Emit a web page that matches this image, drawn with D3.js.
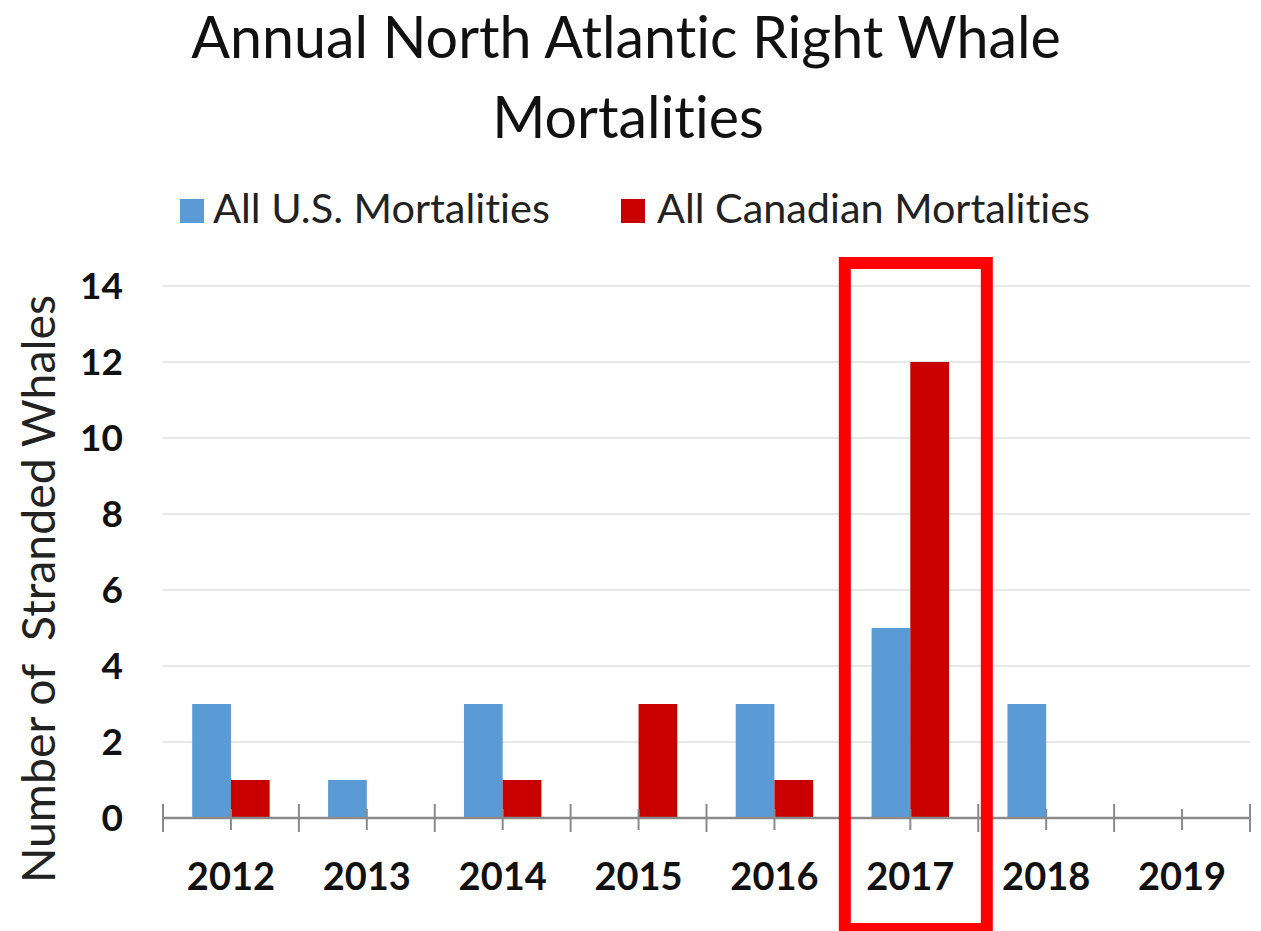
<!DOCTYPE html>
<html>
<head>
<meta charset="utf-8">
<script src="https://cdn.jsdelivr.net/npm/d3@7"></script>
<style>
  html, body { margin: 0; padding: 0; background: #fff; }
  svg { display: block; }
  text { font-family: Lato, "Open Sans", sans-serif; font-variant-ligatures: none; font-feature-settings: "liga" 0, "clig" 0; }
</style>
</head>
<body>
<svg id="chart" width="1261" height="931"></svg>
<script>
const years = ["2012", "2013", "2014", "2015", "2016", "2017", "2018", "2019"];
const usMortalities = [3, 1, 3, 0, 3, 5, 3, 0];
const canadianMortalities = [1, 0, 1, 3, 1, 12, 0, 0];
const seriesNames = ["All U.S. Mortalities", "All Canadian Mortalities"];
const seriesColors = ["#5b9bd5", "#c80000"];
const yTicks = [0, 2, 4, 6, 8, 10, 12, 14];
const titleLines = ["Annual North Atlantic Right Whale", "Mortalities"];
const yAxisTitle = "Number of  Stranded Whales";
const highlightYear = "2017";

const svg = d3.select("#chart");
const plot = { left: 163, right: 1250, top: 286, bottom: 818 };

const x0 = d3.scaleBand().domain(years).range([plot.left, plot.right]).padding(0);
const bw = x0.bandwidth();
const x1 = d3.scaleBand().domain([0, 1]).range([bw * 0.215, bw * 0.785]).padding(0);
const y = d3.scaleLinear().domain([0, 14]).range([plot.bottom, plot.top]);

function fitWidth(sel, target) {
  const node = sel.node();
  const fs = parseFloat(sel.attr("font-size"));
  const w = node.getComputedTextLength();
  sel.attr("font-size", (fs * target / w).toFixed(2));
}

// Title
const t1 = svg.append("text").attr("x", 626).attr("y", 53).attr("text-anchor", "middle")
  .attr("font-size", 60).attr("fill", "#111").text(titleLines[0]);
fitWidth(t1, 925);
let b = t1.node().getBBox();
let fs = parseFloat(t1.attr("font-size"));
let asc = (53 - b.y) / fs;
let t1y = 53;
if (b.y < 1) {
  fs = fs * 0.94;
  t1y = Math.ceil(asc * fs) + 1;
  t1.attr("font-size", fs.toFixed(2)).attr("y", t1y);
}
const t2 = svg.append("text").attr("x", 628).attr("y", t1y + 80).attr("text-anchor", "middle")
  .attr("font-size", t1.attr("font-size")).attr("fill", "#111").text(titleLines[1]);

// Legend
const legendItems = [
  { sq: 180, tx: 213, end: 550 },
  { sq: 621, tx: 657, end: 1090 }
];
legendItems.forEach((li, i) => {
  svg.append("rect").attr("x", li.sq).attr("y", 199).attr("width", 24).attr("height", 24)
    .attr("fill", seriesColors[i]);
  const t = svg.append("text").attr("x", li.tx).attr("y", 223)
    .attr("font-size", 36).attr("fill", "#222").text(seriesNames[i]);
  fitWidth(t, li.end - li.tx);
});

// Gridlines
svg.append("g").selectAll("line").data(yTicks.filter(d => d > 0)).join("line")
  .attr("x1", plot.left).attr("x2", plot.right)
  .attr("y1", d => y(d)).attr("y2", d => y(d))
  .attr("stroke", "#e8e8e8").attr("stroke-width", 2);

// Bars
const data = years.map((yr, i) => ({ year: yr, vals: [usMortalities[i], canadianMortalities[i]] }));
const groups = svg.append("g").selectAll("g").data(data).join("g")
  .attr("transform", d => `translate(${x0(d.year)},0)`);
groups.selectAll("rect").data(d => d.vals.map((v, k) => ({ v, k }))).join("rect")
  .attr("x", d => x1(d.k)).attr("width", x1.bandwidth())
  .attr("y", d => y(d.v)).attr("height", d => y(0) - y(d.v))
  .attr("fill", d => seriesColors[d.k]);

// X axis line and ticks
const axisColor = "#8a8a8a";
svg.append("line").attr("x1", plot.left).attr("x2", plot.right)
  .attr("y1", y(0)).attr("y2", y(0)).attr("stroke", axisColor).attr("stroke-width", 2.5);
const boundaries = years.map(d => x0(d)).concat([plot.right]);
svg.append("g").selectAll("line").data(boundaries).join("line")
  .attr("x1", d => d).attr("x2", d => d).attr("y1", y(0) - 14).attr("y2", y(0) + 14)
  .attr("stroke", axisColor).attr("stroke-width", 2);
svg.append("g").selectAll("line").data(years).join("line")
  .attr("x1", d => x0(d) + bw / 2).attr("x2", d => x0(d) + bw / 2)
  .attr("y1", y(0) - 9).attr("y2", y(0) + 12)
  .attr("stroke", axisColor).attr("stroke-width", 2);

// X labels
svg.append("g").selectAll("text").data(years).join("text")
  .attr("x", d => x0(d) + bw / 2).attr("y", 890).attr("text-anchor", "middle")
  .attr("font-size", 38).attr("font-weight", 700).attr("fill", "#111").text(d => d);

// Y labels
svg.append("g").selectAll("text").data(yTicks).join("text")
  .attr("x", 123).attr("y", d => y(d) + 13).attr("text-anchor", "end")
  .attr("font-size", 37).attr("font-weight", 700).attr("fill", "#111").text(d => d);

// Y axis title
const yt = svg.append("text").attr("transform", "translate(55,589) rotate(-90)")
  .attr("text-anchor", "middle").attr("font-size", 44).attr("fill", "#222")
  .attr("xml:space", "preserve").style("white-space", "pre").text(yAxisTitle);
fitWidth(yt, 588);

// Highlight box around 2017
const hx = x0(highlightYear) + bw / 2;
svg.append("rect").attr("x", hx - 65.5).attr("y", 263).attr("width", 142).attr("height", 666)
  .attr("fill", "none").attr("stroke", "#ff0000").attr("stroke-width", 12);
</script>
</body>
</html>
